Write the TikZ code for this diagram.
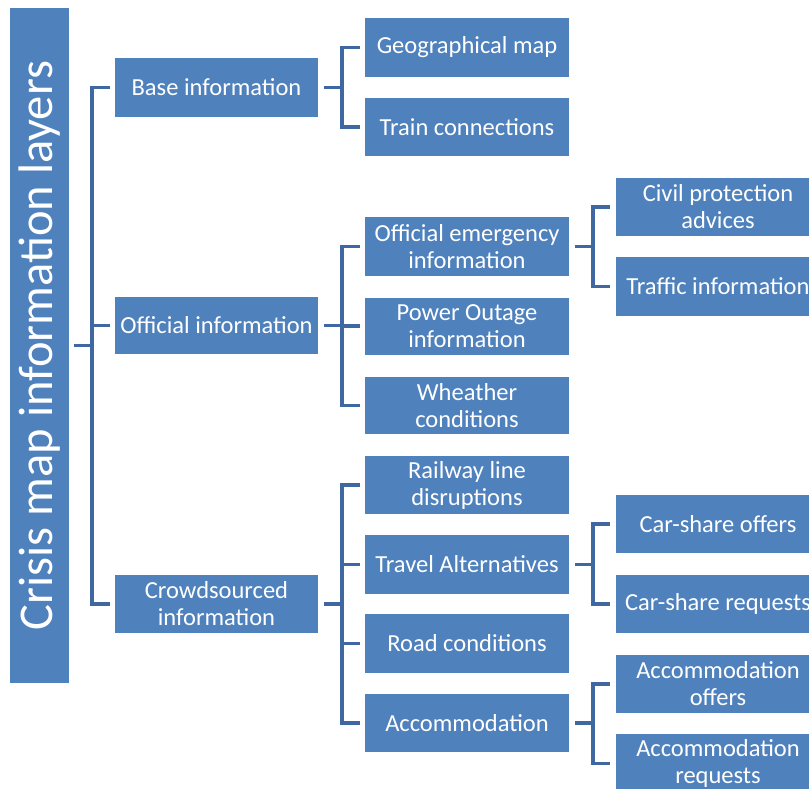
\documentclass[tikz,border=0pt]{standalone}
\usepackage{fontspec}
\setmainfont{Carlito}
\definecolor{boxblue}{HTML}{4F81BD}
\definecolor{connblue}{HTML}{3F68A3}
\begin{document}
\begin{tikzpicture}[x=1pt,y=-1pt,
  box/.style={rectangle, fill=boxblue, text=white, inner sep=0pt, align=center,
    minimum width=204pt, minimum height=58.5pt, font=\fontsize{24.5}{27}\selectfont},
  rootbox/.style={rectangle, fill=boxblue, inner sep=0pt, minimum width=59pt, minimum height=675pt},
  roottext/.style={text=white, rotate=90, inner sep=0pt, font=\fontsize{48.5}{50}\selectfont},
  conn/.style={draw=connblue, line width=3.5pt, line cap=butt, line join=miter}]
\useasboundingbox (0,0) rectangle (809,789);
\clip (0,0) rectangle (809,789);
\fill[white] (0,0) rectangle (809,789);
% root
\node[rootbox] (root) at (39.5,345.5) {};
\node[roottext] (roottitle) at (root.center) {Crisis map information layers};
% level 1
\node[box, minimum width=203pt] (base) at (216.5,87.5) {Base information};
\node[box, minimum width=203pt, minimum height=57pt] (off) at (216.5,325.5) {Official information};
\node[box, minimum width=203pt] (crowd) at (216.5,604) {Crowdsourced\\information};
% level 2
\node[box] (geo) at (467,47.5) {Geographical map};
\node[box] (train) at (467,127) {Train connections};
\node[box] (emer) at (467,246.5) {Official emergency\\information};
\node[box, minimum height=57pt] (power) at (467,326) {Power Outage\\information};
\node[box, minimum height=57pt] (weather) at (467,405.5) {Wheather\\conditions};
\node[box] (rail) at (467,485) {Railway line\\disruptions};
\node[box] (travel) at (467,564.5) {Travel Alternatives};
\node[box] (road) at (467,643.5) {Road conditions};
\node[box] (accom) at (467,723) {Accommodation};
% level 3
\node[box] (civil) at (718,207) {Civil protection\\advices};
\node[box] (traffic) at (718,286.5) {Traffic information};
\node[box] (caroff) at (718,524) {Car-share offers};
\node[box] (carreq) at (718,604) {Car-share requests};
\node[box] (accoff) at (718,684) {Accommodation\\offers};
\node[box] (accreq) at (718,763.5) {Accommodation\\requests};
% connectors: root
\draw[conn] ([xshift=5pt]root.east) -- ([xshift=-23pt]base.west |- root.east);
\draw[conn] ([xshift=-5pt]base.west) -| ([xshift=-23pt]crowd.west) -- ([xshift=-5pt]crowd.west);
\draw[conn] ([xshift=-23pt]off.west) -- ([xshift=-5pt]off.west);
% base
\draw[conn] ([xshift=6pt]base.east) -- ([xshift=-23pt]geo.west |- base.east);
\draw[conn] ([xshift=-5pt]geo.west) -| ([xshift=-23pt]train.west) -- ([xshift=-5pt]train.west);
% official
\draw[conn] ([xshift=6pt]off.east) -- ([xshift=-23pt]emer.west |- off.east);
\draw[conn] ([xshift=-5pt]emer.west) -| ([xshift=-23pt]weather.west) -- ([xshift=-5pt]weather.west);
\draw[conn] ([xshift=-23pt]power.west) -- ([xshift=-5pt]power.west);
% crowd
\draw[conn] ([xshift=6pt]crowd.east) -- ([xshift=-23pt]rail.west |- crowd.east);
\draw[conn] ([xshift=-5pt]rail.west) -| ([xshift=-23pt]accom.west) -- ([xshift=-5pt]accom.west);
\draw[conn] ([xshift=-23pt]travel.west) -- ([xshift=-5pt]travel.west);
\draw[conn] ([xshift=-23pt]road.west) -- ([xshift=-5pt]road.west);
% emergency
\draw[conn] ([xshift=6pt]emer.east) -- ([xshift=-23pt]civil.west |- emer.east);
\draw[conn] ([xshift=-6pt]civil.west) -| ([xshift=-23pt]traffic.west) -- ([xshift=-6pt]traffic.west);
% travel
\draw[conn] ([xshift=6pt]travel.east) -- ([xshift=-23pt]caroff.west |- travel.east);
\draw[conn] ([xshift=-6pt]caroff.west) -| ([xshift=-23pt]carreq.west) -- ([xshift=-6pt]carreq.west);
% accommodation
\draw[conn] ([xshift=6pt]accom.east) -- ([xshift=-23pt]accoff.west |- accom.east);
\draw[conn] ([xshift=-6pt]accoff.west) -| ([xshift=-23pt]accreq.west) -- ([xshift=-6pt]accreq.west);
\end{tikzpicture}
\end{document}
